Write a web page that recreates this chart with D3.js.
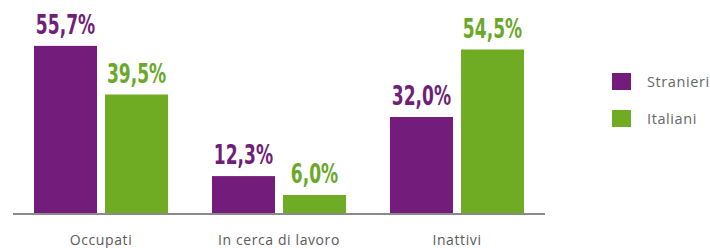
<!DOCTYPE html>
<html><head><meta charset="utf-8">
<script src="https://cdn.jsdelivr.net/npm/d3@7"></script>
<style>
html,body{margin:0;padding:0;background:#fff;}
svg{display:block;}
</style></head>
<body>
<svg id="c" width="710" height="248"></svg>
<script>
const categories = ["Occupati", "In cerca di lavoro", "Inattivi"];
const seriesNames = ["Stranieri", "Italiani"];
const stranieri = [55.7, 12.3, 32.0];
const italiani = [39.5, 6.0, 54.5];
</script>
<script>
const colors = ["#741c7b", "#6fac24"];
const labelColors = ["#6e1f77", "#6aa829"];
const svg = d3.select("#c");
const x0 = d3.scaleBand().domain(categories).range([13, 545]).paddingInner(0.247).paddingOuter(0.118);
const x1 = d3.scaleBand().domain(seriesNames).range([0, x0.bandwidth()]).paddingInner(0.113);
const y = d3.scaleLinear().domain([0, 60]).range([213, 33]);
const fmt = v => v.toFixed(1).replace(".", ",") + "%";
const data = categories.map((c, i) => ({cat: c, vals: [stranieri[i], italiani[i]]}));
const g = svg.selectAll("g.grp").data(data).enter().append("g")
  .attr("transform", d => `translate(${x0(d.cat)},0)`);
g.selectAll("rect").data(d => d.vals.map((v, j) => ({v, j}))).enter().append("rect")
  .attr("x", d => x1(seriesNames[d.j])).attr("width", x1.bandwidth())
  .attr("y", d => y(d.v)).attr("height", d => y(0) - y(d.v))
  .attr("fill", d => colors[d.j]);
g.selectAll("text.val").data(d => d.vals.map((v, j) => ({v, j}))).enter().append("text")
  .attr("class", "val")
  .attr("transform", d => `translate(${x1(seriesNames[d.j]) + x1.bandwidth() / 2},${y(d.v) - 12}) scale(0.76,1.05)`)
  .attr("text-anchor", "middle")
  .attr("fill", d => labelColors[d.j])
  .style("font-family", "'DejaVu Sans Condensed','DejaVu Sans',sans-serif")
  .style("font-weight", "bold").style("font-size", "25px")
  .text(d => fmt(d.v));
svg.append("line").attr("x1", 13).attr("x2", 545).attr("y1", y(0) + 1).attr("y2", y(0) + 1)
  .attr("stroke", "#8a8a8a").attr("stroke-width", 2);
svg.selectAll("text.cat").data(categories).enter().append("text").attr("class", "cat")
  .attr("x", d => x0(d) + x0.bandwidth() / 2).attr("y", 245)
  .attr("text-anchor", "middle").attr("fill", "#5a5a5a")
  .style("font-family", "'Open Sans',sans-serif").style("font-size", "14px").style("letter-spacing", "0.6px")
  .text(d => d);
const lg = svg.selectAll("g.lg").data(seriesNames).enter().append("g")
  .attr("transform", (d, i) => `translate(612,${73 + i * 37})`);
lg.append("rect").attr("width", 19).attr("height", 17).attr("fill", (d, i) => colors[i]);
lg.append("text").attr("x", 35).attr("y", 14).attr("fill", "#666")
  .style("font-family", "'Open Sans',sans-serif").style("font-size", "14.5px").style("letter-spacing", "0.6px")
  .text(d => d);
</script>
</body></html>
